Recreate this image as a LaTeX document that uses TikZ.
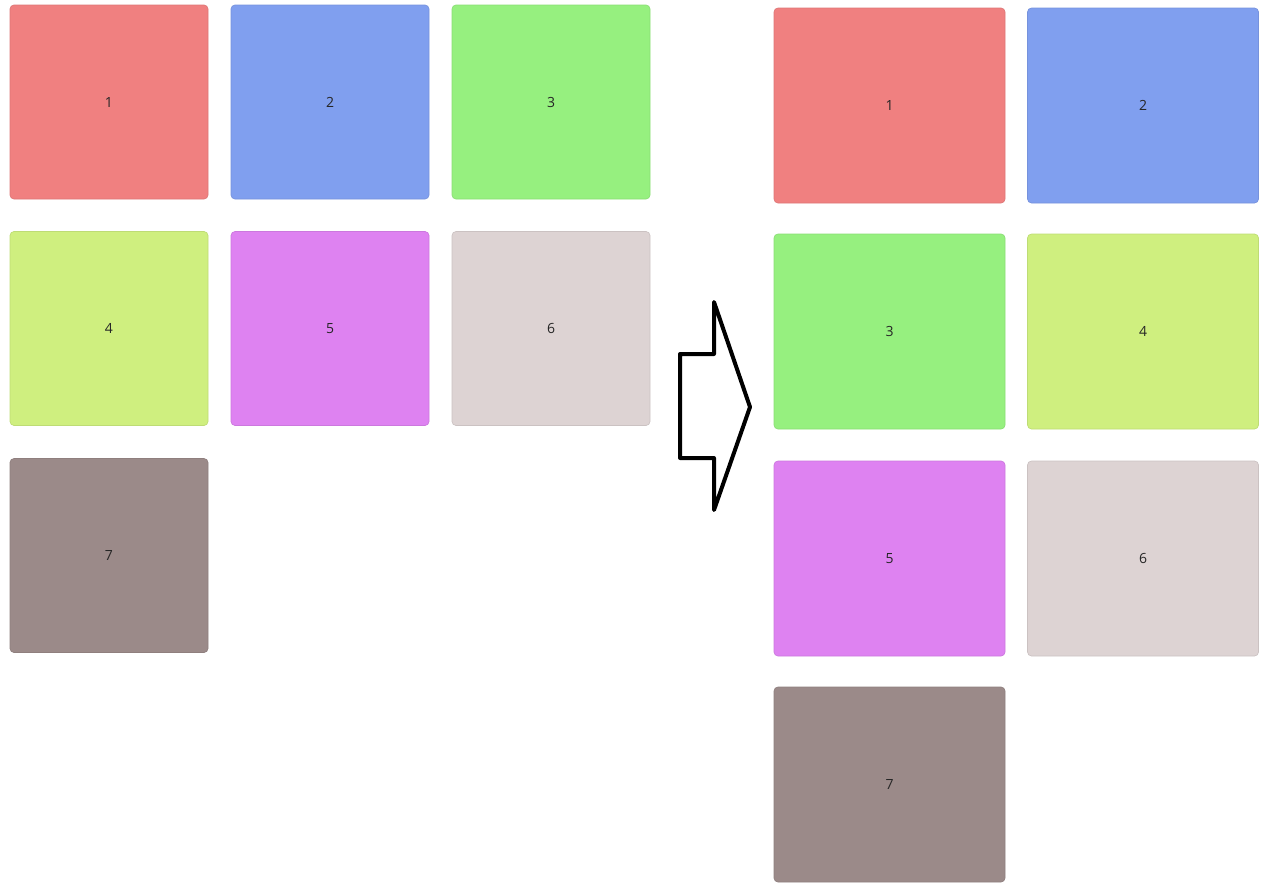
\documentclass[tikz,border=0pt]{standalone}
\usepackage{fontspec}
\setmainfont{Open Sans}
\definecolor{tile1}{HTML}{F08080}
\definecolor{tile2}{HTML}{809FEF}
\definecolor{tile3}{HTML}{96F07F}
\definecolor{tile4}{HTML}{CFEF7F}
\definecolor{tile5}{HTML}{DE82F1}
\definecolor{tile6}{HTML}{DDD3D3}
\definecolor{tile7}{HTML}{9B8A89}
\tikzset{
  tile/.style={draw=#1!92!black, fill=#1, line width=0.5pt, rounded corners=3pt,
    font=\fontsize{10.5}{12}\selectfont, text=black!85},
  smalltile/.style={minimum width=148.5pt, minimum height=145.5pt},
  widetile/.style={minimum width=173.25pt, minimum height=146.25pt}
}
\begin{document}
\begin{tikzpicture}[x=0.75pt, y=-0.75pt]
    \useasboundingbox (0,0) rectangle (1280,893);
    % before: three columns
    \foreach \n/\x/\y in {1/109/102, 2/330/102, 3/551/102,
                          4/109/328.5, 5/330/328.5, 6/551/328.5,
                          7/109/555.5}
      \node[tile=tile\n, smalltile] (before\n) at (\x,\y) {\n};

    % after: two columns
    \foreach \n/\x/\y in {1/889.5/105.5, 2/1143/105.5,
                          3/889.5/331.5, 4/1143/331.5,
                          5/889.5/558.5, 6/1143/558.5,
                          7/889.5/784.5}
      \node[tile=tile\n, widetile] (after\n) at (\x,\y) {\n};

    % big hollow arrow
    \draw[line width=3pt, line cap=round, line join=round]
      (680,354) -- (714,354) -- (714,302) -- (750,407) -- (714,510)
      -- (714,458) -- (680,458) -- cycle;
\end{tikzpicture}
\end{document}
